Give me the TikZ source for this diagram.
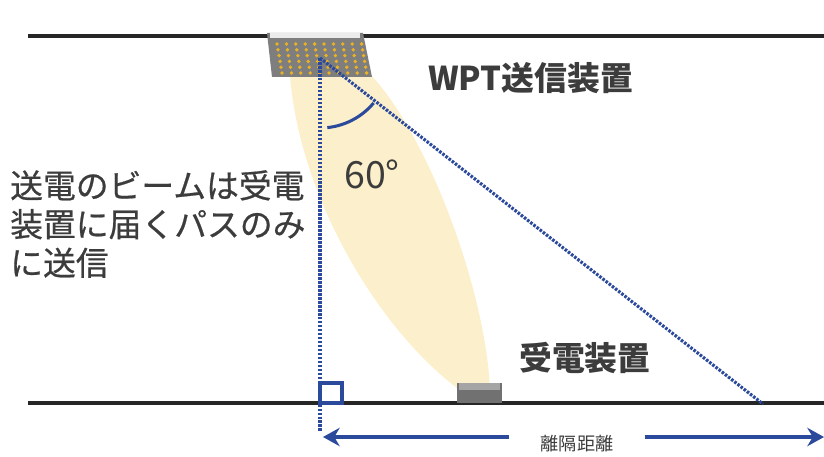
\documentclass[tikz,border=0pt]{standalone}
\usepackage{fontspec}
\setmainfont{Noto Sans CJK JP}
\newfontfamily\medfont{Noto Sans CJK JP}[FakeBold=0.6]
\usepackage{tikz}
\usetikzlibrary{arrows.meta}
\definecolor{beam}{HTML}{FCF0CC}
\definecolor{guide}{HTML}{2C4A9C}
\definecolor{ink}{HTML}{3C3C3C}
\definecolor{panel}{HTML}{7E7E7E}
\definecolor{cell}{HTML}{E9B223}
\tikzset{
	wall/.style={line width=4pt, black!85},
	guideline/.style={guide, line width=2.7pt, dash pattern=on 2.2pt off 1.2pt},
	anglemark/.style={guide, line width=2.6pt},
	dimarr/.style={-{Stealth[length=5mm, width=5.5mm]}, line width=3pt, guide},
	label/.style={text=ink, inner sep=0pt, font=\fontsize{28}{33}\selectfont},
}
\begin{document}
\begin{tikzpicture}[x=0.03cm, y=-0.03cm]
		\useasboundingbox (0,0) rectangle (824,457);
		% beam
		\fill[beam] (290,76) .. controls (300,200) and (380,330) .. (457,388)
			-- (490,388) .. controls (485,290) and (430,140) .. (372,76) -- cycle;
		% walls
		\draw[wall] (28,36) -- (824,36);
		\draw[wall] (28,403) -- (824,403);
		% transmitter panel
		\fill[panel] (267,33) -- (363,33) -- (372,77) -- (272,77) -- cycle;
		\fill[white!85!gray] (270,33) rectangle (360,38);
		\foreach \i in {0,...,9}
			\foreach \j in {0,...,5}
				\fill[cell] (277+\i*9.4+\j*1,44+\j*5.8) circle (1.9);
		% receiver
		\fill[panel!90!black] (457,383) rectangle (502,403);
		\fill[panel!70] (459,383) rectangle (500,390);
		% geometry
		\coordinate (apex) at (320,58);
		\coordinate (foot) at (320,432);
		\coordinate (far) at (763,404);
		\draw[guideline] (apex) -- (foot);
		\draw[guideline] (apex) -- (far);
		\draw[anglemark] (apex) ++(-84:2.1cm) arc[start angle=-84, end angle=-40, radius=2.1cm];
		\draw[anglemark] (320,383) rectangle (342,403);
		% labels
		\node[label, font=\fontsize{32}{36}\selectfont] (ang) at (372,174) {60°};
		\node[label, anchor=west] (tx) at (428,78) {\bfseries WPT送信装置};
		\node[label, anchor=west] (rx) at (519,358) {\bfseries 受電装置};
		\node[label, anchor=north west, align=left] (note) at (10,170) {\medfont 送電のビームは受電\\\medfont 装置に届くパスのみ\\\medfont に送信};
		% separation distance
		\coordinate (dl) at (323,437);
		\coordinate (dr) at (824,437);
		\node[label, font=\fontsize{15.5}{18}\selectfont, inner xsep=0.93cm] (dist) at (577,444) {離隔距離};
		\draw[dimarr] (dist.west |- dl) -- (dl);
		\draw[dimarr] (dist.east |- dr) -- (dr);
	\end{tikzpicture}
\end{document}
